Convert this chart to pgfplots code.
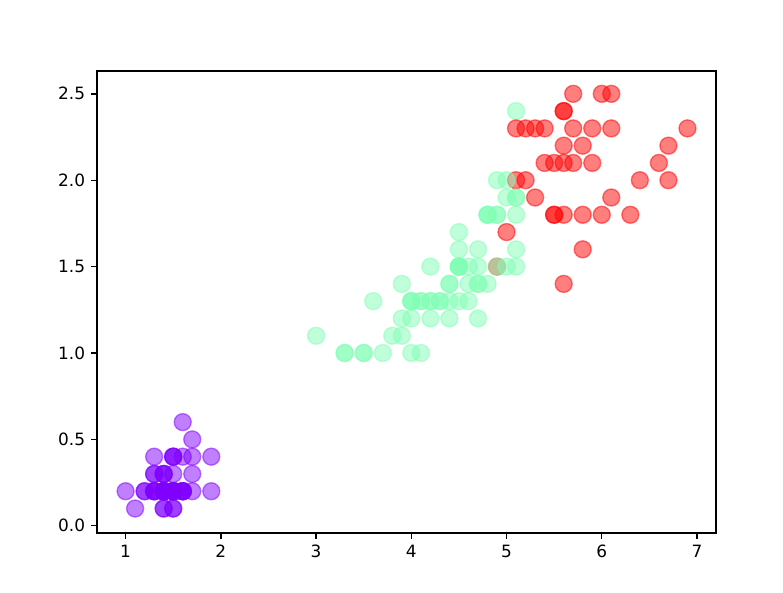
\documentclass[border=0pt]{standalone}
\usepackage{fontspec}
\setmainfont{DejaVu Sans}
\usepackage{pgfplots}
\usepackage{pgfplotstable}
\pgfplotsset{compat=1.18}
\definecolor{cpurple}{HTML}{8000FF}
\definecolor{cgreen}{HTML}{80FFB4}
\definecolor{cred}{HTML}{FF0000}
\pgfplotstableread{
x y c
1.4 0.2 a
1.4 0.2 a
1.3 0.2 a
1.5 0.2 a
1.4 0.2 a
1.7 0.4 a
1.4 0.3 a
1.5 0.2 a
1.4 0.2 a
1.5 0.1 a
1.5 0.2 a
1.6 0.2 a
1.4 0.1 a
1.1 0.1 a
1.2 0.2 a
1.5 0.4 a
1.3 0.4 a
1.4 0.3 a
1.7 0.3 a
1.5 0.3 a
1.7 0.2 a
1.5 0.4 a
1.0 0.2 a
1.7 0.5 a
1.9 0.2 a
1.6 0.2 a
1.6 0.4 a
1.5 0.2 a
1.4 0.2 a
1.6 0.2 a
1.6 0.2 a
1.5 0.4 a
1.5 0.1 a
1.4 0.2 a
1.5 0.2 a
1.2 0.2 a
1.3 0.2 a
1.4 0.1 a
1.3 0.2 a
1.5 0.2 a
1.3 0.3 a
1.3 0.3 a
1.3 0.2 a
1.6 0.6 a
1.9 0.4 a
1.4 0.3 a
1.6 0.2 a
1.4 0.2 a
1.5 0.2 a
1.4 0.2 a
4.7 1.4 b
4.5 1.5 b
4.9 1.5 c
4.0 1.3 b
4.6 1.5 b
4.5 1.3 b
4.7 1.6 b
3.3 1.0 b
4.6 1.3 b
3.9 1.4 b
3.5 1.0 b
4.2 1.5 b
4.0 1.0 b
4.7 1.4 b
3.6 1.3 b
4.4 1.4 b
4.5 1.5 b
4.1 1.0 b
4.5 1.5 b
3.9 1.1 b
4.8 1.8 b
4.0 1.3 b
4.9 1.5 b
4.7 1.2 b
4.3 1.3 b
4.4 1.4 b
4.8 1.4 b
5.0 1.7 c
4.5 1.5 b
3.5 1.0 b
3.8 1.1 b
3.7 1.0 b
3.9 1.2 b
5.1 1.6 b
4.5 1.5 b
4.5 1.6 b
4.7 1.5 b
4.4 1.3 b
4.1 1.3 b
4.0 1.3 b
4.4 1.2 b
4.6 1.4 b
4.0 1.2 b
3.3 1.0 b
4.2 1.3 b
4.2 1.2 b
4.2 1.3 b
4.3 1.3 b
3.0 1.1 b
4.1 1.3 b
6.0 2.5 c
5.1 1.9 b
5.9 2.1 c
5.6 1.8 c
5.8 2.2 c
6.6 2.1 c
4.5 1.7 b
6.3 1.8 c
5.8 1.8 c
6.1 2.5 c
5.1 2.0 c
5.3 1.9 c
5.5 2.1 c
5.0 2.0 b
5.1 2.4 b
5.3 2.3 c
5.5 1.8 c
6.7 2.2 c
6.9 2.3 c
5.0 1.5 b
5.7 2.3 c
4.9 2.0 b
6.7 2.0 c
4.9 1.8 b
5.7 2.1 c
6.0 1.8 c
4.8 1.8 b
4.9 1.8 b
5.6 2.1 c
5.8 1.6 c
6.1 1.9 c
6.4 2.0 c
5.6 2.2 c
5.1 1.5 b
5.6 1.4 c
6.1 2.3 c
5.6 2.4 c
5.5 1.8 c
4.8 1.8 b
5.4 2.1 c
5.6 2.4 c
5.1 2.3 c
5.1 1.9 b
5.9 2.3 c
5.7 2.5 c
5.2 2.3 c
5.0 1.9 b
5.2 2.0 c
5.4 2.3 c
5.1 1.8 b
}\iris
\begin{document}
\begin{tikzpicture}
\path[use as bounding box] (0,0) rectangle (460.8bp,348.4bp);
\begin{axis}[
  at={(57.1bp,34.7bp)}, anchor=south west,
  scale only axis, width=364.3bp, height=271.9bp,
  xmin=0.7, xmax=7.2, ymin=-0.042, ymax=2.632,
  xtick={1,2,3,4,5,6,7},
  ytick={0,0.5,1,1.5,2,2.5},
  yticklabel style={/pgf/number format/.cd, fixed, fixed zerofill, precision=1},
  /pgf/number format/assume math mode=true,
  tick label style={font=\fontsize{10}{12}\selectfont},
  tick align=outside, tick pos=left,
  major tick length=3.5bp,
  every tick/.style={black, line width=0.8bp},
  axis line style={line width=0.8bp},
  clip=false,
]
\addplot[
  scatter, only marks, scatter src=explicit symbolic,
  mark=*, mark size=5bp,
  scatter/classes={
    a={draw=cpurple, fill=cpurple, fill opacity=0.5, draw opacity=0.5, line width=0.8bp},
    b={draw=cgreen, fill=cgreen, fill opacity=0.5, draw opacity=0.5, line width=0.8bp},
    c={draw=cred, fill=cred, fill opacity=0.5, draw opacity=0.5, line width=0.8bp}
  }
] table[x=x, y=y, meta=c] {\iris};
\end{axis}
\end{tikzpicture}
\end{document}
